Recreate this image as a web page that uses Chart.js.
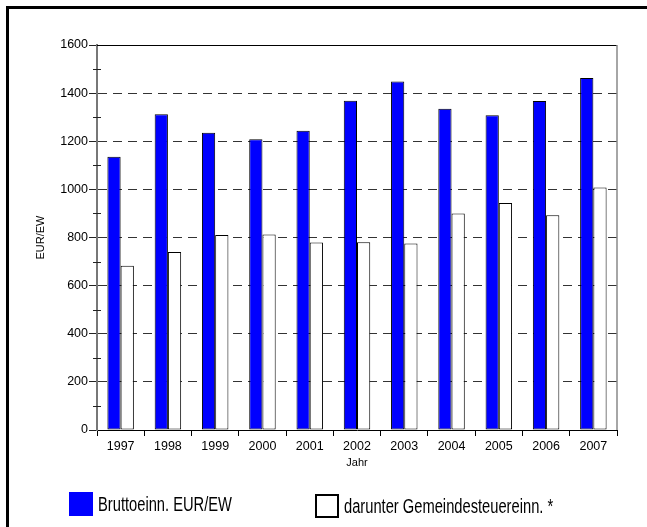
<!DOCTYPE html>
<html>
<head>
<meta charset="utf-8">
<script src="https://cdn.jsdelivr.net/npm/chart.js"></script>
<style>
  html, body { margin: 0; padding: 0; background: #fff; }
  body { width: 647px; height: 527px; position: relative; overflow: hidden; }
  #frame { position: absolute; left: 6px; top: 6px; width: 700px; height: 600px; border: 3px solid #000; box-sizing: border-box; }
  #wrap { position: absolute; left: 0; top: 0; width: 647px; height: 527px; }
  #legend { position: absolute; top: 0; left: 0; width: 647px; height: 527px; pointer-events: none;
            font-family: 'Liberation Sans', Arial, sans-serif; font-size: 20px; color: #000; }
  #legend .item { position: absolute; display: flex; align-items: center; white-space: nowrap; height: 24px; }
  #legend .box { width: 24px; height: 24px; box-sizing: border-box; flex: none; }
  #legend .txt { display: inline-block; transform: scaleX(0.735); transform-origin: left center; margin-left: 5px; }
</style>
</head>
<body>
<div id="frame"></div>
<div id="wrap"><canvas id="chart" width="647" height="527"></canvas></div>
<div id="legend"></div>
<script>
// Data
const years = ['1997', '1998', '1999', '2000', '2001', '2002', '2003', '2004', '2005', '2006', '2007'];
const brutto = [1136, 1312, 1235, 1208, 1244, 1368, 1448, 1335, 1308, 1367, 1463];
const steuer = [683, 740, 810, 812, 779, 780, 775, 900, 943, 892, 1008];
const yMinorTicks = [100, 300, 500, 700, 900, 1100, 1300, 1500];

const tickFont = "'Liberation Sans', Arial, sans-serif";

// frame line on top/right of the plot plus the short minor ticks on the y axis
const axisExtras = {
  id: 'axisExtras',
  afterDraw(chart) {
    const ctx = chart.ctx;
    const area = chart.chartArea;
    const y = chart.scales.y;
    ctx.save();
    ctx.lineWidth = 1;
    ctx.strokeStyle = '#000';
    ctx.beginPath();
    ctx.moveTo(area.left, area.top + 0.5);
    ctx.lineTo(area.right, area.top + 0.5);
    ctx.stroke();
    ctx.strokeStyle = '#888';
    ctx.lineWidth = 1.5;
    ctx.beginPath();
    ctx.moveTo(area.right, area.top);
    ctx.lineTo(area.right, area.bottom);
    ctx.stroke();
    ctx.strokeStyle = '#222';
    ctx.lineWidth = 1;
    yMinorTicks.forEach(v => {
      const py = Math.round(y.getPixelForValue(v)) + 0.5;
      ctx.beginPath();
      ctx.moveTo(area.left - 4, py);
      ctx.lineTo(area.left + 4, py);
      ctx.stroke();
    });
    ctx.restore();
  }
};

const chart = new Chart(document.getElementById('chart'), {
  type: 'bar',
  data: {
    labels: years,
    datasets: [{
      label: 'Bruttoeinn. EUR/EW',
      data: brutto,
      backgroundColor: '#0000ff',
      borderColor: '#000',
      borderWidth: 1,
      borderSkipped: false
    }, {
      label: 'darunter Gemeindesteuereinn. *',
      data: steuer,
      backgroundColor: '#ffffff',
      borderColor: '#000',
      borderWidth: 1,
      borderSkipped: false
    }]
  },
  options: {
    responsive: false,
    animation: false,
    devicePixelRatio: 1,
    layout: { padding: { left: 30, right: 30, top: 45, bottom: 47 } },
    datasets: { bar: { categoryPercentage: 0.56, barPercentage: 1 } },
    scales: {
      x: {
        grid: { offset: true, drawOnChartArea: false, tickLength: 6, color: '#000' },
        border: { color: '#000', width: 1 },
        ticks: { color: '#000', padding: 3, font: { family: tickFont, size: 12.5 } },
        title: { display: true, text: 'Jahr', color: '#000', font: { family: tickFont, size: 11 }, padding: { top: 0, bottom: 10 } },
        afterFit(scale) { scale.height = 50; }
      },
      y: {
        min: 0,
        max: 1600,
        ticks: {
          stepSize: 200, color: '#000', padding: 1, font: { family: tickFont, size: 12.5 },
          callback: v => String(v)
        },
        grid: {
          tickLength: 8,
          tickColor: '#222',
          color: ctx => (ctx.tick && (ctx.tick.value === 0 || ctx.tick.value === 1600)) ? 'rgba(0,0,0,0)' : '#333',
          lineWidth: 1
        },
        border: { color: '#777', width: 2, dash: [9, 6] },
        title: { display: true, text: 'EUR/EW', color: '#000', font: { family: tickFont, size: 11 }, padding: 4 },
        afterFit(scale) { scale.width = 67; }
      }
    },
    plugins: {
      legend: { display: false },
      tooltip: { enabled: false }
    }
  },
  plugins: [axisExtras]
});

// html legend built from the datasets
const legendEl = document.getElementById('legend');
const legendSpots = [{ left: 69, top: 492 }, { left: 315, top: 494 }];
chart.data.datasets.forEach((ds, i) => {
  const item = document.createElement('div');
  item.className = 'item';
  item.style.left = legendSpots[i].left + 'px';
  item.style.top = legendSpots[i].top + 'px';
  const box = document.createElement('span');
  box.className = 'box';
  box.style.background = ds.backgroundColor;
  box.style.border = ds.backgroundColor === '#ffffff' ? '2px solid #000' : 'none';
  const txt = document.createElement('span');
  txt.className = 'txt';
  txt.textContent = ds.label;
  item.appendChild(box);
  item.appendChild(txt);
  legendEl.appendChild(item);
});
</script>
</body>
</html>
